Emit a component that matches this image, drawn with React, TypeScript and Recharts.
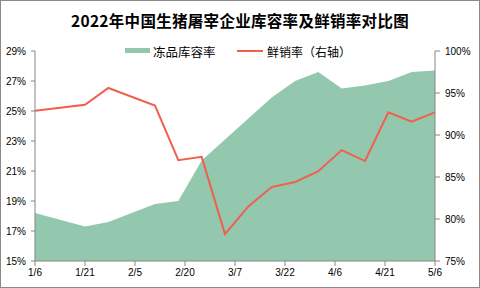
import React from "react";
import { ComposedChart, Area, Line, XAxis, YAxis } from "recharts";

const dates = ["1/6", "1/21", "1/28", "2/11", "2/18", "2/25", "3/4", "3/11", "3/18", "3/25", "4/1", "4/8", "4/15", "4/22", "4/29", "5/6"];
const frozenRate = [18.2, 17.3, 17.6, 18.8, 19.0, 21.7, 23.1, 24.5, 25.9, 27.0, 27.6, 26.5, 26.7, 27.0, 27.6, 27.7];
const freshSalesRate = [92.9, 93.6, 95.6, 93.5, 87.0, 87.4, 78.2, 81.5, 83.8, 84.4, 85.7, 88.2, 86.9, 92.7, 91.6, 92.7];
const xTickLabels = ["1/6", "1/21", "2/5", "2/20", "3/7", "3/22", "4/6", "4/21", "5/6"];
const leftTicks = [15, 17, 19, 21, 23, 25, 27, 29];
const rightTicks = [75, 80, 85, 90, 95, 100];

const TITLE = "2022年中国生猪屠宰企业库容率及鲜销率对比图";
const SERIES_A = "冻品库容率";
const SERIES_B = "鲜销率（右轴）";

const GREEN = "#93c7ae";
const RED = "#f15f4f";
const AXIS = "#868686";

const monthStart = [0, 31, 59, 90, 120, 151];
const dayOfYear = (s: string) => {
  const [m, d] = s.split("/").map(Number);
  return monthStart[m - 1] + d;
};
const origin = dayOfYear(dates[0]);
const toX = (s: string) => dayOfYear(s) - origin;

const data = dates.map((d, i) => ({
  x: toX(d),
  frozen: frozenRate[i],
  fresh: freshSalesRate[i],
}));
const xTicks = xTickLabels.map(toX);
const labelByX: Record<number, string> = {};
xTickLabels.forEach((l) => (labelByX[toX(l)] = l));

const tickFont = { fontFamily: "Liberation Sans", fontSize: 10, fill: "#000" };

export default function App() {
  return (
    <div style={{ position: "absolute", left: 0, top: 0, width: 480, height: 288, background: "#fff", fontFamily: "'Noto Sans CJK SC', sans-serif" }}>
      <div style={{ position: "absolute", left: 0, top: 0, width: 480, height: 40, lineHeight: "40px", textAlign: "center", fontSize: 15.5, fontWeight: 700, letterSpacing: 0.3, color: "#000", whiteSpace: "nowrap" }}>
        {TITLE}
      </div>
      <ComposedChart width={480} height={288} data={data} margin={{ top: 51, right: 0, bottom: 0, left: 0 }} style={{ position: "absolute", left: 0, top: 0 }}>
        <XAxis
          dataKey="x"
          type="number"
          domain={[0, 120]}
          ticks={xTicks}
          tickFormatter={(v: number) => labelByX[v] ?? ""}
          height={27}
          tickSize={5}
          tickMargin={3}
          stroke={AXIS}
          tick={tickFont}
          interval={0}
        />
        <YAxis
          yAxisId="left"
          domain={[15, 29]}
          ticks={leftTicks}
          tickFormatter={(v: number) => `${v}%`}
          width={35}
          tickSize={4}
          tickMargin={5}
          stroke={AXIS}
          tick={tickFont}
          interval={0}
        />
        <YAxis
          yAxisId="right"
          orientation="right"
          domain={[75, 100]}
          ticks={rightTicks}
          tickFormatter={(v: number) => `${v}%`}
          width={45}
          tickSize={5}
          tickMargin={5}
          stroke={AXIS}
          tick={{ ...tickFont, textAnchor: "start" }}
          interval={0}
        />
        <Area yAxisId="left" type="linear" dataKey="frozen" fill={GREEN} fillOpacity={1} stroke="none" isAnimationActive={false} />
        <Line yAxisId="right" type="linear" dataKey="fresh" stroke={RED} strokeWidth={2} dot={false} isAnimationActive={false} />
      </ComposedChart>
      <div style={{ position: "absolute", left: 125, top: 48, width: 25, height: 5, background: GREEN }} />
      <div style={{ position: "absolute", left: 153, top: 43, height: 17, lineHeight: "17px", fontSize: 12.5, color: "#000", whiteSpace: "nowrap" }}>{SERIES_A}</div>
      <div style={{ position: "absolute", left: 237, top: 50, width: 26, height: 2, background: RED }} />
      <div style={{ position: "absolute", left: 267, top: 43, height: 17, lineHeight: "17px", fontSize: 12, color: "#000", whiteSpace: "nowrap" }}>{SERIES_B}</div>
      <div style={{ position: "absolute", left: 0, top: 0, width: 480, height: 288, boxSizing: "border-box", border: "1px solid #8a8a8a", pointerEvents: "none" }} />
    </div>
  );
}
